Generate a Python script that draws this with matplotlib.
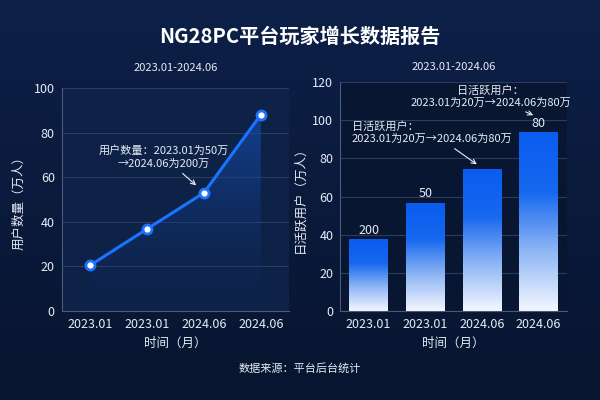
import numpy as np
import matplotlib
matplotlib.use("Agg")
import matplotlib.pyplot as plt
from matplotlib.colors import LinearSegmentedColormap
from matplotlib.patches import Polygon

plt.rcParams['font.family'] = ['Noto Sans CJK SC', 'DejaVu Sans']

title = "NG28PC平台玩家增长数据报告"
subtitle = "2023.01-2024.06"
categories = ["2023.01", "2023.01", "2024.06", "2024.06"]
users = [20.5, 36.8, 53, 88]
dau = [37.5, 56.5, 74, 93.5]
bar_labels = ["200", "50", "", "80"]
source = "数据来源：平台后台统计"

BG = "#0b1a3a"
TXT = "#e6ecf5"
LINE = "#1a73ff"
GRID = "#2b3c5e"
SPINE = "#4a5a7a"

fig = plt.figure(figsize=(6, 4), dpi=100)
fig.patch.set_facecolor(BG)

# background vertical gradient
bgax = fig.add_axes([0, 0, 1, 1], zorder=-10)
grad = np.linspace(0, 1, 256).reshape(-1, 1)
bgcm = LinearSegmentedColormap.from_list("bg", ["#0d2048", "#081530"])
bgax.imshow(grad, aspect="auto", cmap=bgcm, extent=[0, 1, 0, 1])
bgax.axis("off")

fig.text(0.5, 0.91, title, ha="center", va="center", color="white",
         fontsize=14.5, fontweight="bold")
fig.text(0.5, 0.08, source, ha="center", va="center", color=TXT, fontsize=8,
         fontweight="medium")

def style(ax, ymax, step, facecolor):
    ax.set_facecolor(facecolor)
    ax.set_ylim(0, ymax)
    ax.set_yticks(np.arange(0, ymax + 1, step))
    ax.set_xlim(-0.5, 3.5)
    ax.set_xticks(range(len(categories)))
    ax.set_xticklabels(categories)
    ax.tick_params(colors=TXT, labelsize=9, length=0, pad=5)
    for s in ["top", "right"]:
        ax.spines[s].set_visible(False)
    for s in ["left", "bottom"]:
        ax.spines[s].set_color(SPINE)
        ax.spines[s].set_linewidth(0.8)
    ax.grid(axis="y", color=GRID, linewidth=0.8)
    ax.set_axisbelow(True)
    ax.set_xlabel("时间（月）", color=TXT, fontsize=9, labelpad=4, fontweight="medium")

# ---- left: line chart ----
ax1 = fig.add_axes([0.103, 0.2225, 0.379, 0.5575])
style(ax1, 100, 20, "#0e2248")
ax1.set_title(subtitle, color=TXT, fontsize=8, pad=12, fontweight="medium")
ax1.set_ylabel("用户数量（万人）", color=TXT, fontsize=9, labelpad=6, fontweight="medium")
x = np.arange(len(users))
fillcm = LinearSegmentedColormap.from_list("fill", [(0.05, 0.2, 0.45, 0.0), (0.1, 0.35, 0.8, 0.55)])
im = ax1.imshow(np.linspace(0, 1, 256).reshape(-1, 1), aspect="auto", cmap=fillcm,
                extent=[x[0], x[-1], 0, max(users)], origin="lower", zorder=1)
poly = Polygon(np.column_stack([np.r_[x, x[-1], x[0]], np.r_[users, 0, 0]]),
               closed=True, transform=ax1.transData, facecolor="none", edgecolor="none")
ax1.add_patch(poly)
im.set_clip_path(poly)
ax1.plot(x, users, color=LINE, linewidth=2.2, zorder=3)
ax1.plot(x, users, "o", markersize=6.5, markerfacecolor="white",
         markeredgecolor=LINE, markeredgewidth=2, zorder=4)
ax1.annotate("用户数量：2023.01为50万\n→2024.06为200万", xy=(1.9, 55.5), xytext=(1.3, 69),
             ha="center", va="center", color=TXT, fontsize=8, linespacing=1.3,
             arrowprops=dict(arrowstyle="->", color=TXT, lw=0.8))

# ---- right: bar chart ----
ax2 = fig.add_axes([0.567, 0.2225, 0.378, 0.5725])
style(ax2, 120, 20, "#081632")
ax2.set_title(subtitle, color=TXT, fontsize=8, pad=9, fontweight="medium")
ax2.set_ylabel("日活跃用户（万人）", color=TXT, fontsize=9, labelpad=4, fontweight="medium")
barcm = LinearSegmentedColormap.from_list("bar", ["#f4f7ff", "#8fb6f5", "#1668ee", "#0a5cf0"])
width = 0.68
bars = ax2.bar(x, dau, width=width, color="none", zorder=2)
for b, lab in zip(bars, bar_labels):
    bx, bw, bh = b.get_x(), b.get_width(), b.get_height()
    ax2.imshow(np.linspace(0, 1, 256).reshape(-1, 1), aspect="auto", cmap=barcm,
               extent=[bx, bx + bw, 0, bh], origin="lower", zorder=2)
    if lab:
        ax2.text(bx + bw / 2, bh + 1.5, lab, ha="center", va="bottom", color=TXT, fontsize=9)
ax2.set_xlim(-0.5, 3.5)
ax2.set_ylim(0, 120)
ax2.annotate("日活跃用户：\n2023.01为20万→2024.06为80万", xy=(1.95, 76), xytext=(-0.3, 93.5),
             ha="left", va="center", color=TXT, fontsize=8, linespacing=1.3,
             arrowprops=dict(arrowstyle="->", color=TXT, lw=0.8))
ax2.annotate("日活跃用户：\n2023.01为20万→2024.06为80万", xy=(2.95, 102), xytext=(2.15, 112.5),
             ha="center", va="center", color=TXT, fontsize=8, linespacing=1.3,
             arrowprops=dict(arrowstyle="->", color=TXT, lw=0.8))

fig.savefig("out.png", dpi=100, facecolor=BG)
